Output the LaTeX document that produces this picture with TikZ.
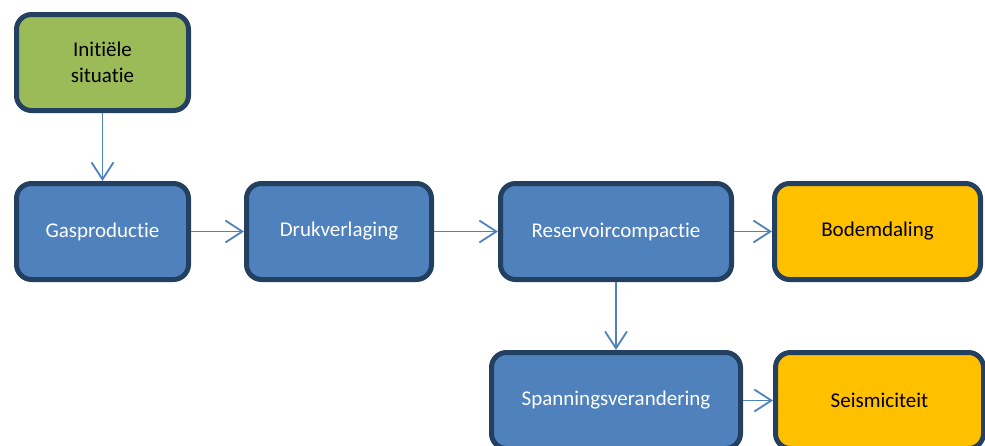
\documentclass[tikz,border=0pt]{standalone}
\usepackage{fontspec}
\setmainfont{Carlito}[Ligatures=CommonOff]
\usepackage{tikz}
\usetikzlibrary{positioning,arrows.meta}
\definecolor{boxblue}{RGB}{79,129,189}
\definecolor{boxgreen}{RGB}{155,187,89}
\definecolor{boxorange}{RGB}{255,192,0}
\definecolor{boxline}{RGB}{36,64,97}
\tikzstyle{bb}=[%
      rectangle, rounded corners=15pt, draw=boxline, line width=5pt, fill=boxblue,
      text=white, align=center, minimum height=96pt, inner sep=6pt,
      font=\fontsize{21}{26}\selectfont
]
\tikzstyle{st}=[bb, fill=boxgreen, text=black]
\tikzstyle{en}=[bb, fill=boxorange, text=black]

\begin{document}
\begin{tikzpicture}[auto,
    ->,
    >={Straight Barb[length=17pt,width=22pt]},
    every edge/.append style={draw=boxblue, line width=1.8pt},
]
    \useasboundingbox (0pt,0pt) rectangle (985pt,-445pt);

    \node[st, minimum width=172pt] (0) at (102.5pt,-62.5pt) {Initiële\\situatie};
    \node[bb, minimum width=172pt] (1) [below = 68pt of 0] {Gasproductie};
    \node[bb, minimum width=185pt] (2) [right = 53pt of 1] {Drukverlaging};
    \node[bb, minimum width=231pt] (3) [right = 64pt of 2] {Reservoircompactie};
    \node[en, minimum width=206pt] (4) [right = 38pt of 3] {Bodemdaling};
    \node[bb, minimum width=249pt] (5) [below = 68pt of 3] {Spanningsverandering};
    \node[en, minimum width=208pt] (6) [right = 30pt of 5] {Seismiciteit};

    \path (0) edge (1)
          (1) edge (2)
          (2) edge (3)
          (3) edge (4)
          (3) edge (5)
          (5) edge (6)
    ;
\end{tikzpicture}
\end{document}
